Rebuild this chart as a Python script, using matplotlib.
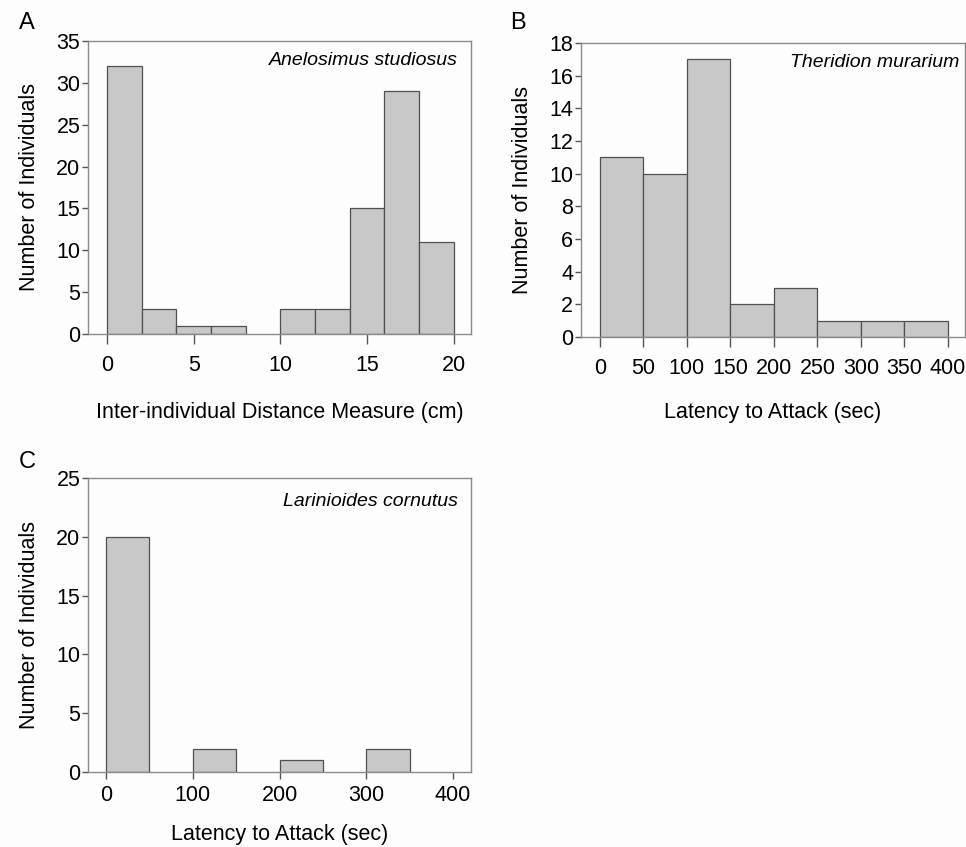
import matplotlib.pyplot as plt
import numpy as np

plt.rcParams['font.family'] = ['Liberation Sans', 'DejaVu Sans']

# panel A
a_edges = [0, 2, 4, 6, 8, 10, 12, 14, 16, 18]
a_counts = [32, 3, 1, 1, 0, 3, 3, 15, 29, 11]
a_width = 2
# panel B
b_edges = [0, 50, 100, 150, 200, 250, 300, 350]
b_counts = [11, 10, 17, 2, 3, 1, 1, 1]
# panel C
c_edges = [0, 50, 100, 150, 200, 250, 300, 350]
c_counts = [20, 0, 2, 0, 1, 0, 2, 0]
lat_width = 50

bar_col = '#c8c8c8'
edge_col = '#505050'
spine_col = '#8a8a8a'
bg = '#fdfdfd'
fs = 15.5

fig = plt.figure(figsize=(9.66, 8.47), dpi=100, facecolor=bg)
axA = fig.add_axes([0.0911, 0.6057, 0.3965, 0.3459])
axB = fig.add_axes([0.6014, 0.6021, 0.3975, 0.3471])
axC = fig.add_axes([0.0911, 0.0885, 0.3965, 0.3471])


def style(ax, xpad):
    ax.set_facecolor(bg)
    for s in ax.spines.values():
        s.set_color(spine_col)
        s.set_linewidth(1.0)
    ax.tick_params(axis='both', labelsize=fs, color='#555555', width=1.0)
    ax.tick_params(axis='x', length=7, pad=xpad)
    ax.tick_params(axis='y', length=4, pad=1.5)


def draw(ax, edges, counts, w):
    for e, c in zip(edges, counts):
        if c > 0:
            ax.bar(e, c, width=w, align='edge', color=bar_col,
                   edgecolor=edge_col, linewidth=0.9, zorder=2)


draw(axA, a_edges, a_counts, a_width)
axA.set_xlim(-1.1, 21.0)
axA.set_ylim(0, 35)
axA.set_xticks([0, 5, 10, 15, 20])
axA.set_yticks(np.arange(0, 36, 5))
style(axA, 8)
axA.set_xlabel('Inter-individual Distance Measure (cm)', fontsize=fs, labelpad=19)
axA.set_ylabel('Number of Individuals', fontsize=fs, labelpad=12)
axA.text(0.965, 0.935, 'Anelosimus studiosus', transform=axA.transAxes,
         ha='right', va='center', style='italic', fontsize=14)

draw(axB, b_edges, b_counts, lat_width)
axB.set_xlim(-21.8, 419.5)
axB.set_ylim(0, 18)
axB.set_xticks(np.arange(0, 401, 50))
axB.set_yticks(np.arange(0, 19, 2))
style(axB, 8)
axB.set_xlabel('Latency to Attack (sec)', fontsize=fs, labelpad=17)
axB.set_ylabel('Number of Individuals', fontsize=fs, labelpad=12)
axB.text(0.985, 0.935, 'Theridion murarium', transform=axB.transAxes,
         ha='right', va='center', style='italic', fontsize=14)

draw(axC, c_edges, c_counts, lat_width)
axC.set_xlim(-20.7, 420.7)
axC.set_ylim(0, 25)
axC.set_xticks(np.arange(0, 401, 100))
axC.set_yticks(np.arange(0, 26, 5))
style(axC, 4)
axC.tick_params(axis='x', length=5)
axC.set_xlabel('Latency to Attack (sec)', fontsize=fs, labelpad=13)
axC.set_ylabel('Number of Individuals', fontsize=fs, labelpad=12)
axC.text(0.965, 0.92, 'Larinioides cornutus', transform=axC.transAxes,
         ha='right', va='center', style='italic', fontsize=14)

fig.text(27 / 966, 1 - 23 / 847, 'A', fontsize=17, ha='center', va='center')
fig.text(518 / 966, 1 - 23 / 847, 'B', fontsize=17, ha='center', va='center')
fig.text(27 / 966, 1 - 462 / 847, 'C', fontsize=17, ha='center', va='center')

fig.savefig('out.png', dpi=100, facecolor=bg)
